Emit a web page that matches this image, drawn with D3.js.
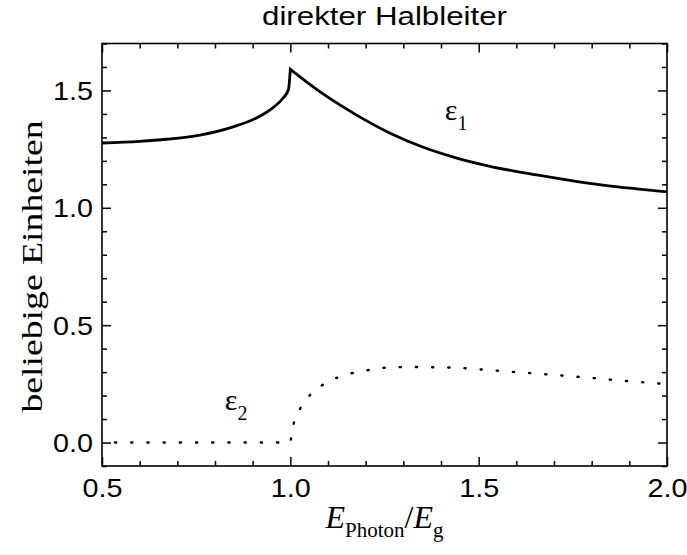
<!DOCTYPE html>
<html>
<head>
<meta charset="utf-8">
<script src="https://cdn.jsdelivr.net/npm/d3@7"></script>
<style>
  body { margin: 0; background: #fff; }
  svg { display: block; }
</style>
</head>
<body>
<div id="chart"></div>
<script>
// Daten aus der Abbildung abgelesen
// eps1 in zwei Äste geteilt, damit die Spitze bei E = Eg scharf bleibt
const eps1LeftX  = [0.5, 0.6, 0.672, 0.76, 0.848, 0.919, 0.954, 0.981, 0.995, 1.0];
const eps1LeftY  = [1.276, 1.283, 1.292, 1.31, 1.345, 1.39, 1.427, 1.468, 1.504, 1.59];
const eps1RightX = [1.0, 1.087, 1.176, 1.265, 1.353, 1.442, 1.53, 1.654, 1.742, 1.83, 1.919, 2.0];
const eps1RightY = [1.59, 1.485, 1.395, 1.318, 1.258, 1.212, 1.177, 1.14, 1.117, 1.097, 1.081, 1.068];

const eps2X = [0.5, 0.75, 1.0, 1.002, 1.008, 1.026, 1.058, 1.10, 1.145, 1.19, 1.23, 1.27,
               1.33, 1.40, 1.45, 1.5, 1.6, 1.7, 1.8, 1.9, 2.0];
const eps2Y = [0.0, 0.0, 0.0, 0.02, 0.075, 0.144, 0.212, 0.258, 0.288, 0.303, 0.315, 0.32,
               0.322, 0.32, 0.318, 0.312, 0.3, 0.288, 0.275, 0.261, 0.249];

const xTicks = [0.5, 1.0, 1.5, 2.0];
const yTicks = [0.0, 0.5, 1.0, 1.5];
const xDomain = [0.5, 2.0];
const yDomain = [-0.1, 1.7];

const W = 687, H = 555;
const margin = { top: 43.5, right: 20, bottom: 89, left: 102 };
const iw = W - margin.left - margin.right;
const ih = H - margin.top - margin.bottom;

const sans = "Liberation Sans, Arial, sans-serif";
const serif = "Liberation Serif, Times New Roman, serif";

const svg = d3.select("#chart").append("svg")
    .attr("width", W)
    .attr("height", H);

const g = svg.append("g")
    .attr("transform", `translate(${margin.left},${margin.top})`);

const x = d3.scaleLinear().domain(xDomain).range([0, iw]);
const y = d3.scaleLinear().domain(yDomain).range([ih, 0]);

// Nebenmarken alle 0.1
const xMinor = d3.range(5, 21).map(d => d / 10).filter(d => !xTicks.includes(d));
const yMinor = d3.range(-1, 18).map(d => d / 10).filter(d => !yTicks.some(t => Math.abs(t - d) < 1e-9));

const major = 9, minor = 5;

function tickAxis(axisFn, scale, values, size, labels) {
    return axisFn(scale).tickValues(values).tickSize(size).tickPadding(6)
        .tickFormat(labels ? d3.format(".1f") : "");
}

// Achsen (Marken nach innen, auf allen vier Seiten)
const axes = [
    [d3.axisBottom, x, `translate(0,${ih})`],
    [d3.axisTop, x, `translate(0,0)`],
    [d3.axisLeft, y, `translate(0,0)`],
    [d3.axisRight, y, `translate(${iw},0)`]
];

axes.forEach(([fn, sc, tr], i) => {
    const isX = sc === x;
    const majors = isX ? xTicks : yTicks;
    const minors = isX ? xMinor : yMinor;
    const labels = i === 0 || i === 2;
    g.append("g").attr("class", "minor").attr("transform", tr)
        .call(tickAxis(fn, sc, minors, -minor, false));
    const ax = g.append("g").attr("class", "major").attr("transform", tr)
        .call(tickAxis(fn, sc, majors, -major, labels));
    if (labels) {
        ax.selectAll("text").attr("dy", null);
        if (i === 0) ax.selectAll("text").attr("y", 31);
        if (i === 2) ax.selectAll("text").attr("x", -9).attr("dy", "0.36em");
    }
});

g.selectAll(".domain").remove();
g.selectAll(".tick line").attr("stroke", "#000").attr("stroke-width", 1.5);
g.selectAll(".tick text")
    .attr("fill", "#000")
    .attr("textLength", 40)
    .attr("lengthAdjust", "spacingAndGlyphs")
    .style("font-family", sans)
    .style("font-size", "25px");

// Rahmen
g.append("rect")
    .attr("width", iw).attr("height", ih)
    .attr("fill", "none").attr("stroke", "#000").attr("stroke-width", 1.6);

const line = d3.line()
    .x(d => x(d[0]))
    .y(d => y(d[1]))
    .curve(d3.curveMonotoneX);

const leftPath = line(d3.zip(eps1LeftX, eps1LeftY));
const rightPath = line(d3.zip(eps1RightX, eps1RightY)).replace(/^M/, "L");

g.append("path")
    .attr("d", leftPath + rightPath)
    .attr("fill", "none")
    .attr("stroke", "#000")
    .attr("stroke-width", 2.8)
    .attr("stroke-linejoin", "miter");

g.append("path")
    .datum(d3.zip(eps2X, eps2Y))
    .attr("d", line)
    .attr("fill", "none")
    .attr("stroke", "#000")
    .attr("stroke-width", 2.4)
    .attr("stroke-linecap", "round")
    .attr("stroke-dasharray", "1.2,15")
    .attr("stroke-dashoffset", 3.2);

// Beschriftungen
svg.append("text")
    .attr("x", margin.left + iw / 2).attr("y", 25)
    .attr("text-anchor", "middle")
    .attr("textLength", 245)
    .attr("lengthAdjust", "spacingAndGlyphs")
    .style("font-family", sans)
    .style("font-size", "26px")
    .text("direkter Halbleiter");

svg.append("text")
    .attr("transform", `translate(42,${margin.top + y(0.75)}) rotate(-90)`)
    .attr("text-anchor", "middle")
    .attr("textLength", 292)
    .attr("lengthAdjust", "spacingAndGlyphs")
    .style("font-family", serif)
    .style("font-size", "29px")
    .text("beliebige Einheiten");

const xl = svg.append("text")
    .attr("x", margin.left + iw / 2).attr("y", 528)
    .attr("text-anchor", "middle")
    .style("font-family", serif)
    .style("font-size", "32px");
xl.append("tspan").style("font-style", "italic").text("E");
xl.append("tspan").attr("dy", 9).style("font-size", "21px").text("Photon");
xl.append("tspan").attr("dy", -9).text("/");
xl.append("tspan").style("font-style", "italic").text("E");
xl.append("tspan").attr("dy", 9).style("font-size", "21px").text("g");

function epsLabel(px, py, sub) {
    const t = g.append("text")
        .attr("x", x(px)).attr("y", y(py))
        .style("font-family", serif)
        .style("font-size", "30px");
    t.append("tspan").text("ε");
    t.append("tspan").attr("dy", 10).style("font-size", "20px").text(sub);
}
epsLabel(1.41, 1.376, "1");
epsLabel(0.826, 0.137, "2");
</script>
</body>
</html>
